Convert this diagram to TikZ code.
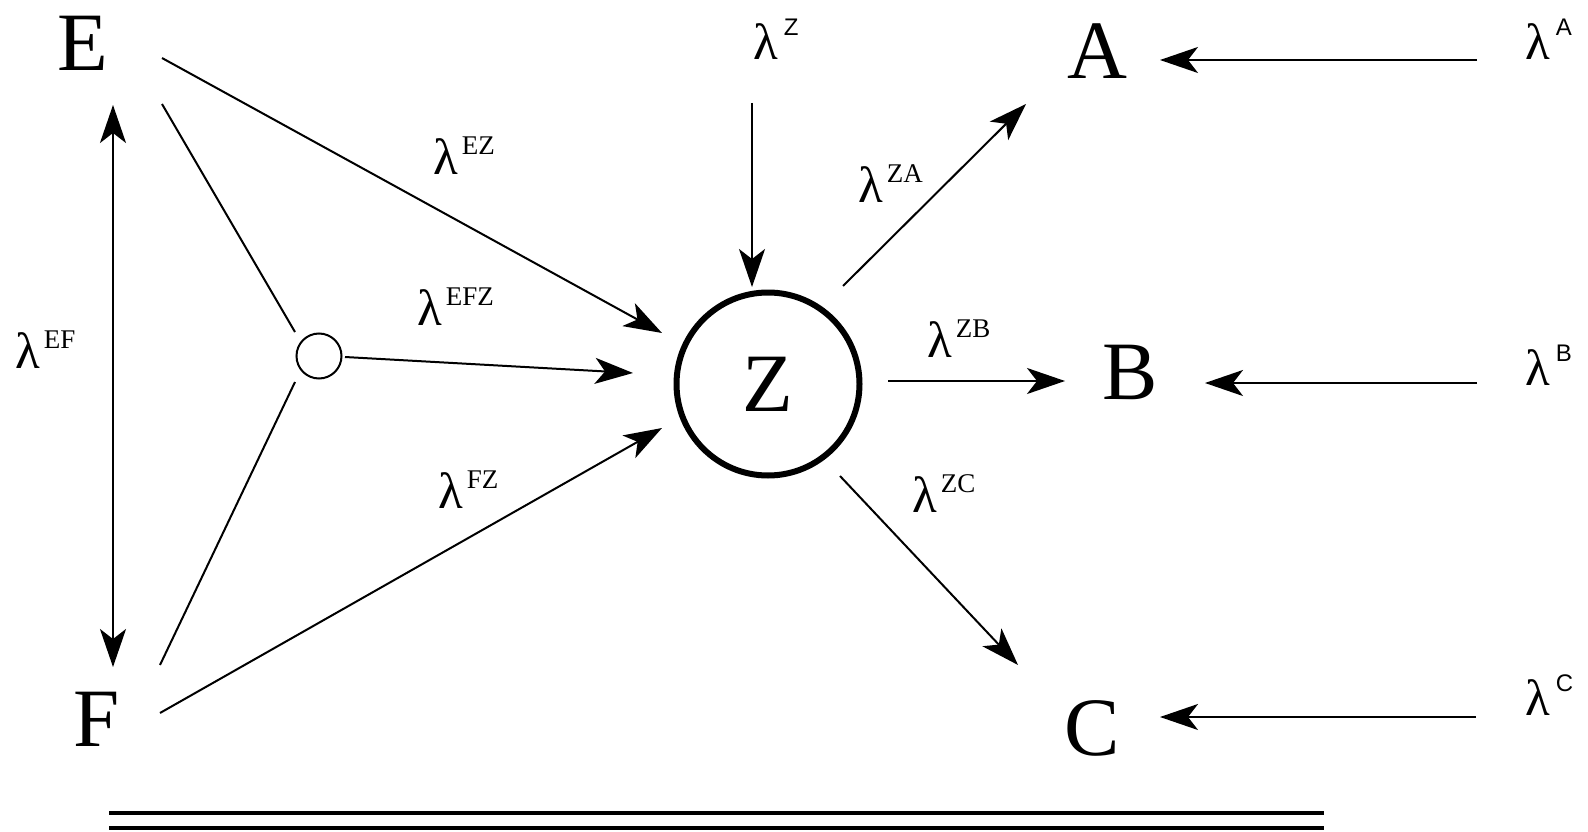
\documentclass[tikz,border=0pt]{standalone}
\usepackage{fontspec}
\setmainfont{Liberation Serif}
\newfontfamily\sansf{Liberation Sans}
\usetikzlibrary{arrows.meta}
\newcommand{\biglet}{\fontsize{83}{83}\selectfont}
\newcommand{\lamserif}[1]{{\fontsize{51}{51}\selectfont λ}\hspace{4pt}\raisebox{20pt}{\fontsize{27}{27}\selectfont #1}}
\newcommand{\lamsans}[1]{{\fontsize{51}{51}\selectfont λ}\hspace{6pt}\raisebox{24pt}{\sansf\fontsize{24}{24}\selectfont #1}}
\begin{document}
\begin{tikzpicture}[x=1pt,y=-1pt,
  conn/.style={line width=2pt},
  arr/.style={conn,-{Stealth[length=38pt,width=26pt,inset=10pt]}},
  darr/.style={conn,{Stealth[length=38pt,width=26pt,inset=10pt]}-{Stealth[length=38pt,width=26pt,inset=10pt]}},
  letter/.style={inner sep=0pt,font=\biglet},
  lab/.style={inner sep=0pt,anchor=base west}]
\useasboundingbox (0,0) rectangle (1588,832);
% main nodes
\node[letter] (E) at (83,43) {E};
\node[letter] (F) at (97,719) {F};
\node[letter] (A) at (1097,51) {A};
\node[letter] (B) at (1130,372) {B};
\node[letter] (C) at (1092,728) {C};
\node[circle,draw,line width=6pt,minimum size=183pt,inner sep=0pt,font=\biglet] (Z) at (768,384) {Z};
\node[circle,draw,line width=2pt,minimum size=45pt,inner sep=0pt] (j) at (319,356) {};
% labels
\node[lab] (lEZ) at (433,175) {\lamserif{EZ}};
\node[lab] (lEFZ) at (417,325) {\lamserif{EFZ}};
\node[lab] (lEF) at (15,368) {\lamserif{EF}};
\node[lab] (lFZ) at (438,508) {\lamserif{FZ}};
\node[lab] (lZA) at (858,202) {\lamserif{ZA}};
\node[lab] (lZB) at (927,357) {\lamserif{ZB}};
\node[lab] (lZC) at (912,512) {\lamserif{ZC}};
\node[lab] (lZ) at (753,60) {\lamsans{Z}};
\node[lab] (lA) at (1525,60) {\lamsans{A}};
\node[lab] (lB) at (1525,385) {\lamsans{B}};
\node[lab] (lC) at (1525,715) {\lamsans{C}};
% connector end points
\coordinate (ef1) at (113,105);
\coordinate (ef2) at (113,667);
\coordinate (ez1) at (162,58);
\coordinate (ez2) at (662,333);
\coordinate (ej1) at (162,104);
\coordinate (ej2) at (295,332);
\coordinate (jz1) at (345,357);
\coordinate (jz2) at (633,373);
\coordinate (fj1) at (160,665);
\coordinate (fj2) at (295,382);
\coordinate (fz1) at (160,713);
\coordinate (fz2) at (662,428);
\coordinate (lz1) at (752,103);
\coordinate (lz2) at (752,287);
\coordinate (za1) at (843,286);
\coordinate (za2) at (1026,104);
\coordinate (zb1) at (888,381);
\coordinate (zb2) at (1065,381);
\coordinate (zc1) at (840,476);
\coordinate (zc2) at (1018,665);
\coordinate (la1) at (1477,60);
\coordinate (la2) at (1160,60);
\coordinate (lb1) at (1477,383);
\coordinate (lb2) at (1205,383);
\coordinate (lc1) at (1476,717);
\coordinate (lc2) at (1160,717);
% connectors
\draw[darr] (ef2) -- (ef1);
\draw[arr] (ez1) -- (ez2);
\draw[conn] (ej1) -- (ej2);
\draw[arr] (jz1) -- (jz2);
\draw[conn] (fj1) -- (fj2);
\draw[arr] (fz1) -- (fz2);
\draw[arr] (lz1) -- (lz2);
\draw[arr] (za1) -- (za2);
\draw[arr] (zb1) -- (zb2);
\draw[arr] (zc1) -- (zc2);
\draw[arr] (la1) -- (la2);
\draw[arr] (lb1) -- (lb2);
\draw[arr] (lc1) -- (lc2);
% bottom double rule
\draw[line width=4pt] (109,813) -- (1324,813);
\draw[line width=4pt] (109,828) -- (1324,828);
\end{tikzpicture}
\end{document}
